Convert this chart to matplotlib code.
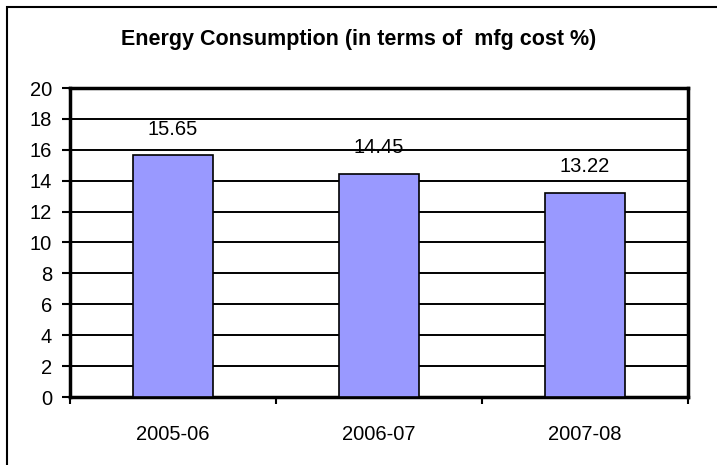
import matplotlib.pyplot as plt
from matplotlib.patches import Rectangle

years = ['2005-06', '2006-07', '2007-08']
values = [15.65, 14.45, 13.22]
yticks = [0, 2, 4, 6, 8, 10, 12, 14, 16, 18, 20]

plt.rcParams['font.family'] = ['Liberation Sans', 'DejaVu Sans']

W, H = 717, 465
fig = plt.figure(figsize=(W / 100, H / 100), dpi=100)
fig.patch.set_facecolor('white')

# outer chart border (runs off right and bottom)
fig.add_artist(Rectangle((7 / W, -0.05), 1.1, 1 - 7 / H + 0.05,
                         transform=fig.transFigure, fill=False,
                         edgecolor='black', linewidth=1.5, clip_on=False))

ax = fig.add_axes([70 / W, 1 - 397 / H, (688 - 70) / W, (397 - 88) / H])

x = list(range(len(years)))
ax.bar(x, values, width=0.39, color='#9999FF', edgecolor='black',
       linewidth=1.2, zorder=3)
for xi, v in zip(x, values):
    ax.annotate(f'{v:.2f}', (xi, v), xytext=(0, 12), textcoords='offset points',
                ha='center', va='bottom', fontsize=14.5, zorder=4)

ax.set_xlim(-0.5, 2.5)
ax.set_ylim(0, 20)
ax.set_yticks(yticks)
ax.set_yticklabels([str(t) for t in yticks], fontsize=14.5)
ax.yaxis.grid(True, color='black', linewidth=1.4, zorder=1)
ax.set_axisbelow(True)

ax.set_xticks(x)
ax.set_xticklabels(years, fontsize=14.5)
ax.tick_params(axis='x', length=0, pad=20)
ax.set_xticks([-0.5, 0.5, 1.5, 2.5], minor=True)
ax.tick_params(axis='x', which='minor', length=5, width=1.5, direction='out')
ax.tick_params(axis='y', length=6, width=1.5, direction='out', pad=7)

for s in ax.spines.values():
    s.set_linewidth(2.5)
    s.set_color('black')

fig.text(359 / W, 1 - 39 / H, 'Energy Consumption (in terms of  mfg cost %)',
         ha='center', va='center', fontsize=15.5, fontweight='bold')

fig.savefig('out.png', dpi=100)
